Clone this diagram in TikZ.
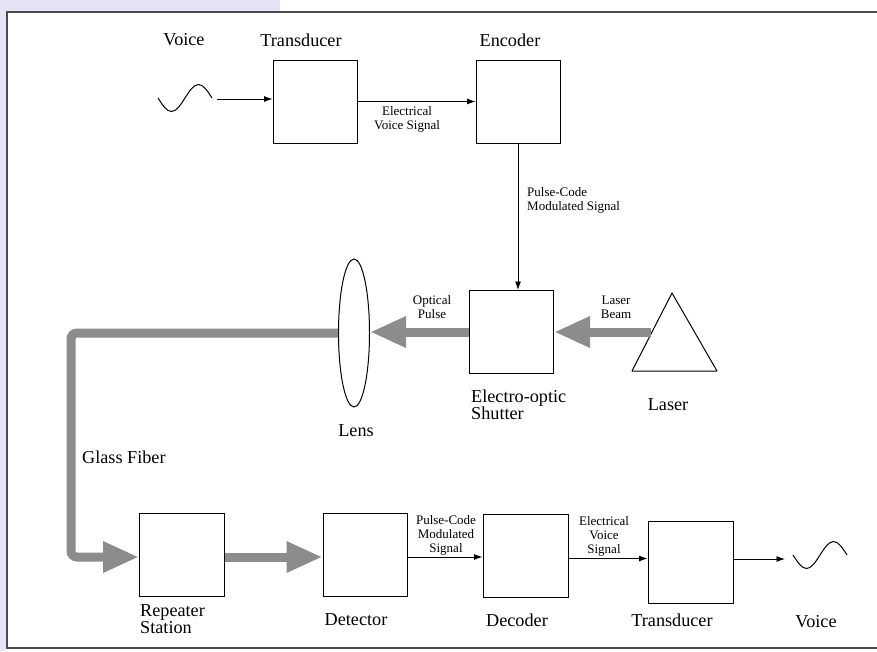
\documentclass[tikz,border=0pt]{standalone}
\usepackage{fontspec}
\setmainfont{Liberation Serif}
\usepackage{tikz}
\usetikzlibrary{shapes.geometric, arrows.meta, positioning, calc}

\definecolor{beamgray}{RGB}{140,140,140}
\definecolor{scanblue}{RGB}{228,228,245}

\begin{document}
\begin{tikzpicture}[
    x=1pt, y=-1pt,
    node distance=12pt,
    box/.style={rectangle, draw, line width=1pt, minimum width=84pt, minimum height=83pt, inner sep=0pt},
    arrow/.style={-{Latex[length=8.5pt,width=6pt]}, line width=0.9pt},
    beam/.style={-{Triangle[length=36pt,width=29pt]}, line width=9pt, draw=beamgray},
    big/.style={font=\fontsize{18.2}{17}\selectfont, inner sep=0pt},
    small/.style={font=\fontsize{13}{14}\selectfont, inner sep=0pt, align=center},
    wave/.style={line width=1pt}
]
\useasboundingbox (0,0) rectangle (877,651);
% scan margins and frame
\fill[scanblue] (0,0) rectangle (6,651);
\fill[scanblue] (0,0) rectangle (280,11);
\draw[black!70, line width=1.2pt] (877,12) -- (7,12) -- (7,648) -- (877,648);

% top row
\node[box] (transA) at (315,101.5) {};
\node[box] (enc) at (518,102) {};
\coordinate (waveA) at (158,98);
\coordinate (voiceA) at (217,99);
\draw[wave] (waveA) sin ++(13.5,13.5) cos ++(13.5,-13.5) sin ++(13.5,-13.5) cos ++(13.5,13.5);
\node[big] (voiceAlbl) at (184,40) {Voice};
\node[big] (transAlbl) at (301,40) {Transducer};
\node[big] (enclbl) at (510,40) {Encoder};
\draw[arrow] (voiceA) -- (voiceA -| transA.west);
\draw[arrow] (transA) -- (transA -| enc.west);
\node[small] (evs) at (407,119.5) {Electrical\\Voice Signal};

% middle row
\node[box] (shutter) at (511.5,332) {};
\node[draw, ellipse, line width=1pt, minimum width=31pt, minimum height=148pt, inner sep=0pt] (lens) at (354,333) {};
\draw[arrow] (enc) -- (enc |- shutter.north);
\node[small, align=left, anchor=west] (pcm) at (527,200) {Pulse-Code\\Modulated Signal};
\draw[line width=1pt, line join=round] (672,293) -- (717,371) -- (632,371) -- cycle;
\coordinate (laser) at (651,332);
\draw[beam] (laser) -- (laser -| shutter.east);
\draw[beam] (shutter) -- (shutter -| lens.east);
\node[small] (optlbl) at (432,307) {Optical\\Pulse};
\node[small] (beamlbl) at (616,307) {Laser\\Beam};
\node[big, align=left, anchor=west, font=\fontsize{18.2}{17}\selectfont] (shutlbl) at (471,405) {Electro-optic\\Shutter};
\node[big] (lenslbl) at (356,431) {Lens};
\node[big] (laserlbl) at (668,405) {Laser};

% fiber
\coordinate (fiberturn) at (71,557);
\draw[beam, rounded corners=6pt] (lens.west) -| (fiberturn) -- (fiberturn -| 139,0);
\node[big, anchor=west] (fiberlbl) at (82,457) {Glass Fiber};

% bottom row
\node[box, minimum width=85pt] (repeater) at (181.5,554.5) {};
\node[box] (detector) at (365,555) {};
\node[box, minimum width=85pt] (decoder) at (525.5,555.5) {};
\node[box, minimum width=85pt, minimum height=82pt] (transB) at (690.5,562) {};
\coordinate (voiceB) at (785,559);
\coordinate (waveB) at (793,555);
\draw[wave] (waveB) sin ++(13.5,13.5) cos ++(13.5,-13.5) sin ++(13.5,-13.5) cos ++(13.5,13.5);
\draw[beam] (repeater.east |- fiberturn) -- (detector.west |- fiberturn);
\draw[arrow] ([yshift=-2pt]detector.east) -- ([yshift=-2pt]detector.east -| decoder.west);
\draw[arrow] ([yshift=-3pt]decoder.east) -- ([yshift=-3pt]decoder.east -| transB.west);
\draw[arrow] (transB.east |- voiceB) -- (voiceB);
\node[small] (pcmB) at (446,535) {Pulse-Code\\Modulated\\Signal};
\node[small] (evsB) at (604,536) {Electrical\\Voice\\Signal};
\node[big, align=left, anchor=west, font=\fontsize{18.2}{17}\selectfont] (replbl) at (140,619) {Repeater\\Station};
\node[big] (detlbl) at (356,620) {Detector};
\node[big] (declbl) at (517,620) {Decoder};
\node[big] (transBlbl) at (672,620) {Transducer};
\node[big] (voiceBlbl) at (816,622) {Voice};
\end{tikzpicture}
\end{document}
